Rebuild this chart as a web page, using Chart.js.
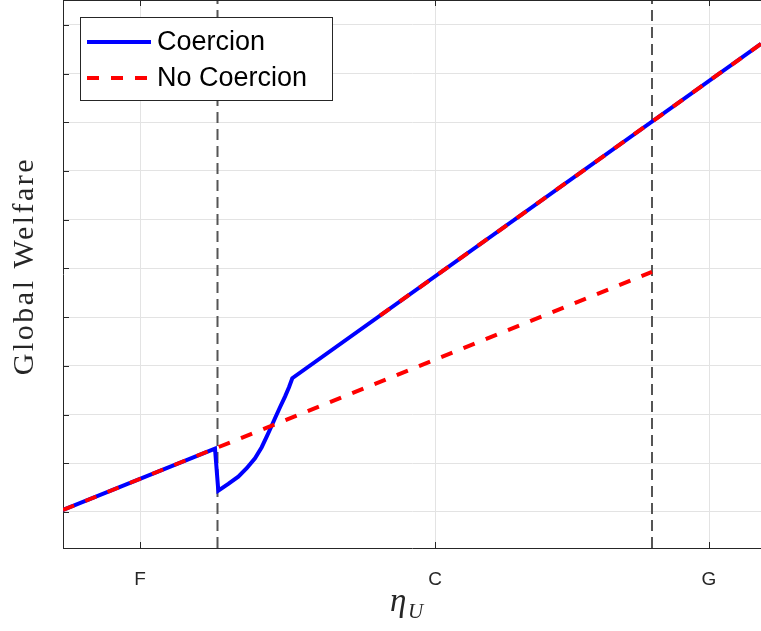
<!DOCTYPE html>
<html>
<head>
<meta charset="utf-8">
<script src="https://cdn.jsdelivr.net/npm/chart.js@4"></script>
<style>
  html, body { margin: 0; padding: 0; background: #fff; }
  #wrap { width: 761px; height: 631px; position: relative; }
</style>
</head>
<body>
<div id="wrap"><canvas id="chart" width="761" height="631"></canvas></div>
<script>
// values (x in axis units, y in grid units)
const coercionX = [0, 1.52, 1.553, 1.653, 1.753, 1.837, 1.92, 1.987, 2.037, 2.08, 2.12, 2.17, 2.22, 2.26, 2.293, 6.98];
const coercionY = [0.04, 1.30, 0.437, 0.575, 0.725, 0.897, 1.103, 1.329, 1.546, 1.739, 1.924, 2.15, 2.368, 2.56, 2.745, 9.61];
const noCoercionX = [0, 5.89, null, 3.17, 6.98];
const noCoercionY = [0.04, 4.93, null, 4.03, 9.61];
const xTickVals = [0.77, 3.72, 6.46];
const xTickLabels = ['F', 'C', 'G'];
const yGridVals = [0, 1, 2, 3, 4, 5, 6, 7, 8, 9, 10];
const vlineX = [1.545, 5.89];
const xMin = 0, xMax = 6.98, yMin = -0.74, yMax = 10.51;

function pts(xs, ys) {
    return xs.map((x, i) => (x === null ? { x: NaN, y: null } : { x: x, y: ys[i] }));
}

const vlineSets = vlineX.map(x => ({
    label: '_v',
    data: [{ x: x, y: yMin }, { x: x, y: yMax }],
    borderColor: '#555555',
    borderWidth: 2,
    borderDash: [11, 6],
    pointRadius: 0,
    order: 3
}));

// axes box, inward ticks, legend, axis titles
const decorPlugin = {
    id: 'decor',
    afterDraw(chart) {
        const ctx = chart.ctx;
        const a = chart.chartArea;
        const xs = chart.scales.x, ys = chart.scales.y;
        ctx.save();
        ctx.strokeStyle = '#262626';
        ctx.lineWidth = 1;
        ctx.beginPath();
        ctx.moveTo(a.left, a.top + 0.5);
        ctx.lineTo(a.right, a.top + 0.5);
        // inward ticks
        xTickVals.forEach(v => {
            const px = Math.round(xs.getPixelForValue(v)) + 0.5;
            ctx.moveTo(px, a.bottom); ctx.lineTo(px, a.bottom - 6);
            ctx.moveTo(px, a.top); ctx.lineTo(px, a.top + 6);
        });
        yGridVals.forEach(v => {
            const py = Math.round(ys.getPixelForValue(v)) + 0.5;
            ctx.moveTo(a.left, py); ctx.lineTo(a.left + 6, py);
        });
        ctx.stroke();

        // legend
        const lx = 80, ly = 17, lw = 252, lh = 83;
        ctx.fillStyle = '#ffffff';
        ctx.fillRect(lx, ly, lw, lh);
        ctx.strokeStyle = '#262626';
        ctx.strokeRect(lx + 0.5, ly + 0.5, lw, lh);
        const items = [chart.data.datasets[0], chart.data.datasets[1]];
        const rows = [42, 78];
        ctx.font = '27px "Liberation Sans", Arial, sans-serif';
        ctx.textBaseline = 'middle';
        items.forEach((ds, i) => {
            ctx.beginPath();
            ctx.strokeStyle = ds.borderColor;
            ctx.lineWidth = 4;
            ctx.setLineDash(ds.borderDash || []);
            ctx.moveTo(87, rows[i]);
            ctx.lineTo(151, rows[i]);
            ctx.stroke();
            ctx.setLineDash([]);
            ctx.fillStyle = '#000000';
            ctx.fillText(ds.label, 157, rows[i] + 1);
        });

        // y title
        ctx.save();
        ctx.translate(25, 266);
        ctx.rotate(-Math.PI / 2);
        ctx.textAlign = 'center';
        ctx.textBaseline = 'middle';
        ctx.fillStyle = '#262626';
        ctx.font = '30px "Liberation Serif", "DejaVu Serif", serif';
        ctx.letterSpacing = '2.5px';
        ctx.fillText('Global Welfare', 0, 0);
        ctx.restore();

        // x title: eta with subscript U
        ctx.fillStyle = '#262626';
        ctx.textBaseline = 'alphabetic';
        ctx.textAlign = 'left';
        ctx.font = 'italic 33px "Liberation Serif", "DejaVu Serif", serif';
        ctx.fillText('η', 390, 611);
        ctx.font = 'italic 21px "Liberation Serif", "DejaVu Serif", serif';
        ctx.fillText('U', 408, 618);
        ctx.restore();
    }
};

new Chart(document.getElementById('chart'), {
    type: 'line',
    data: {
        datasets: [
            {
                label: 'Coercion',
                data: pts(coercionX, coercionY),
                borderColor: '#0000ff',
                borderWidth: 4,
                pointRadius: 0,
                tension: 0,
                order: 2
            },
            {
                label: 'No Coercion',
                data: pts(noCoercionX, noCoercionY),
                borderColor: '#ff0000',
                borderWidth: 4,
                borderDash: [12, 12],
                pointRadius: 0,
                tension: 0,
                spanGaps: false,
                order: 1
            },
            ...vlineSets
        ]
    },
    options: {
        responsive: false,
        animation: false,
        layout: { padding: { top: 0, right: 0, left: 0, bottom: 0 } },
        plugins: { legend: { display: false }, tooltip: { enabled: false } },
        scales: {
            x: {
                type: 'linear',
                min: xMin,
                max: xMax,
                afterBuildTicks: s => { s.ticks = xTickVals.map(v => ({ value: v })); },
                afterFit: s => { s.height = 83; },
                ticks: {
                    autoSkip: false,
                    maxRotation: 0,
                    padding: 20,
                    color: '#262626',
                    font: { family: '"Liberation Sans", Arial, sans-serif', size: 19 },
                    callback: (v, i) => xTickLabels[i]
                },
                grid: { color: '#e3e3e3', lineWidth: 1, drawTicks: false },
                border: { color: '#262626', width: 1 }
            },
            y: {
                type: 'linear',
                min: yMin,
                max: yMax,
                afterBuildTicks: s => { s.ticks = yGridVals.map(v => ({ value: v })); },
                afterFit: s => { s.width = 63; },
                ticks: { display: false },
                grid: { color: '#e3e3e3', lineWidth: 1, drawTicks: false },
                border: { color: '#262626', width: 1 }
            }
        }
    },
    plugins: [decorPlugin]
});
</script>
</body>
</html>
